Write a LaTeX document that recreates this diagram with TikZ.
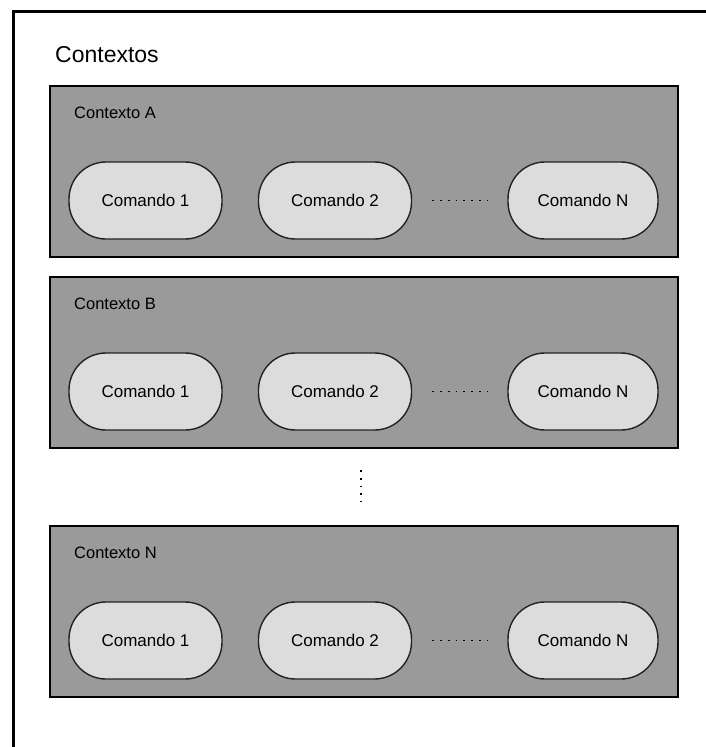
\documentclass[tikz,border=0pt]{standalone}
\usepackage{fontspec}
\setmainfont{Liberation Sans}
\definecolor{ctxfill}{HTML}{9A9A9A}
\definecolor{cmdfill}{HTML}{DCDCDC}
\definecolor{cmdline}{HTML}{222222}
\begin{document}
\begin{tikzpicture}[x=1pt,y=-1pt,
  ctxbox/.style={draw=black,line width=2.1pt,fill=ctxfill,inner sep=0pt},
  ctxlabel/.style={anchor=west,inner sep=0pt,font=\fontsize{16.5}{18}\selectfont},
  cmd/.style={draw=cmdline,line width=1.4pt,fill=cmdfill,rounded corners=37pt,
    minimum width=153pt,minimum height=77pt,inner sep=0pt,font=\fontsize{17}{19}\selectfont},
  hdots/.style={line width=1.9pt,dash pattern=on 1.8pt off 6pt},
  frame/.style={line width=3pt,line cap=rect}]
\useasboundingbox (0,0) rectangle (705,747);
\fill[white] (0,0) rectangle (705,747);
% outer frame (top and left)
\draw[frame] (13,747) -- (13,11) -- (705,11);
\node[anchor=west,inner sep=0pt,font=\fontsize{23}{26}\selectfont] (title) at (55,55) {Contextos};

% context boxes
\foreach \n/\top/\lab in {A/86/Contexto A, B/277/Contexto B, N/526/Contexto N}{
  \path[ctxbox] (50,\top) rectangle (678,\top+171);
  \node[ctxlabel] (lab\n) at (74,\top+27) {\lab};
  \node[cmd] (c1\n) at (145.5,\top+114.5) {Comando 1};
  \node[cmd] (c2\n) at (335,\top+114.5) {Comando 2};
  \node[cmd,minimum width=150pt] (cN\n) at (583,\top+114.5) {Comando N};
  \draw[hdots,shorten <=20pt,shorten >=20pt] (c2\n.east) -- (cN\n.west);
}

% vertical dots between context B and N
\coordinate (vtop) at (361,448);
\coordinate (vbot) at (361,526);
\draw[hdots,shorten <=22pt,shorten >=24pt] (vtop) -- (vbot);
\end{tikzpicture}
\end{document}
